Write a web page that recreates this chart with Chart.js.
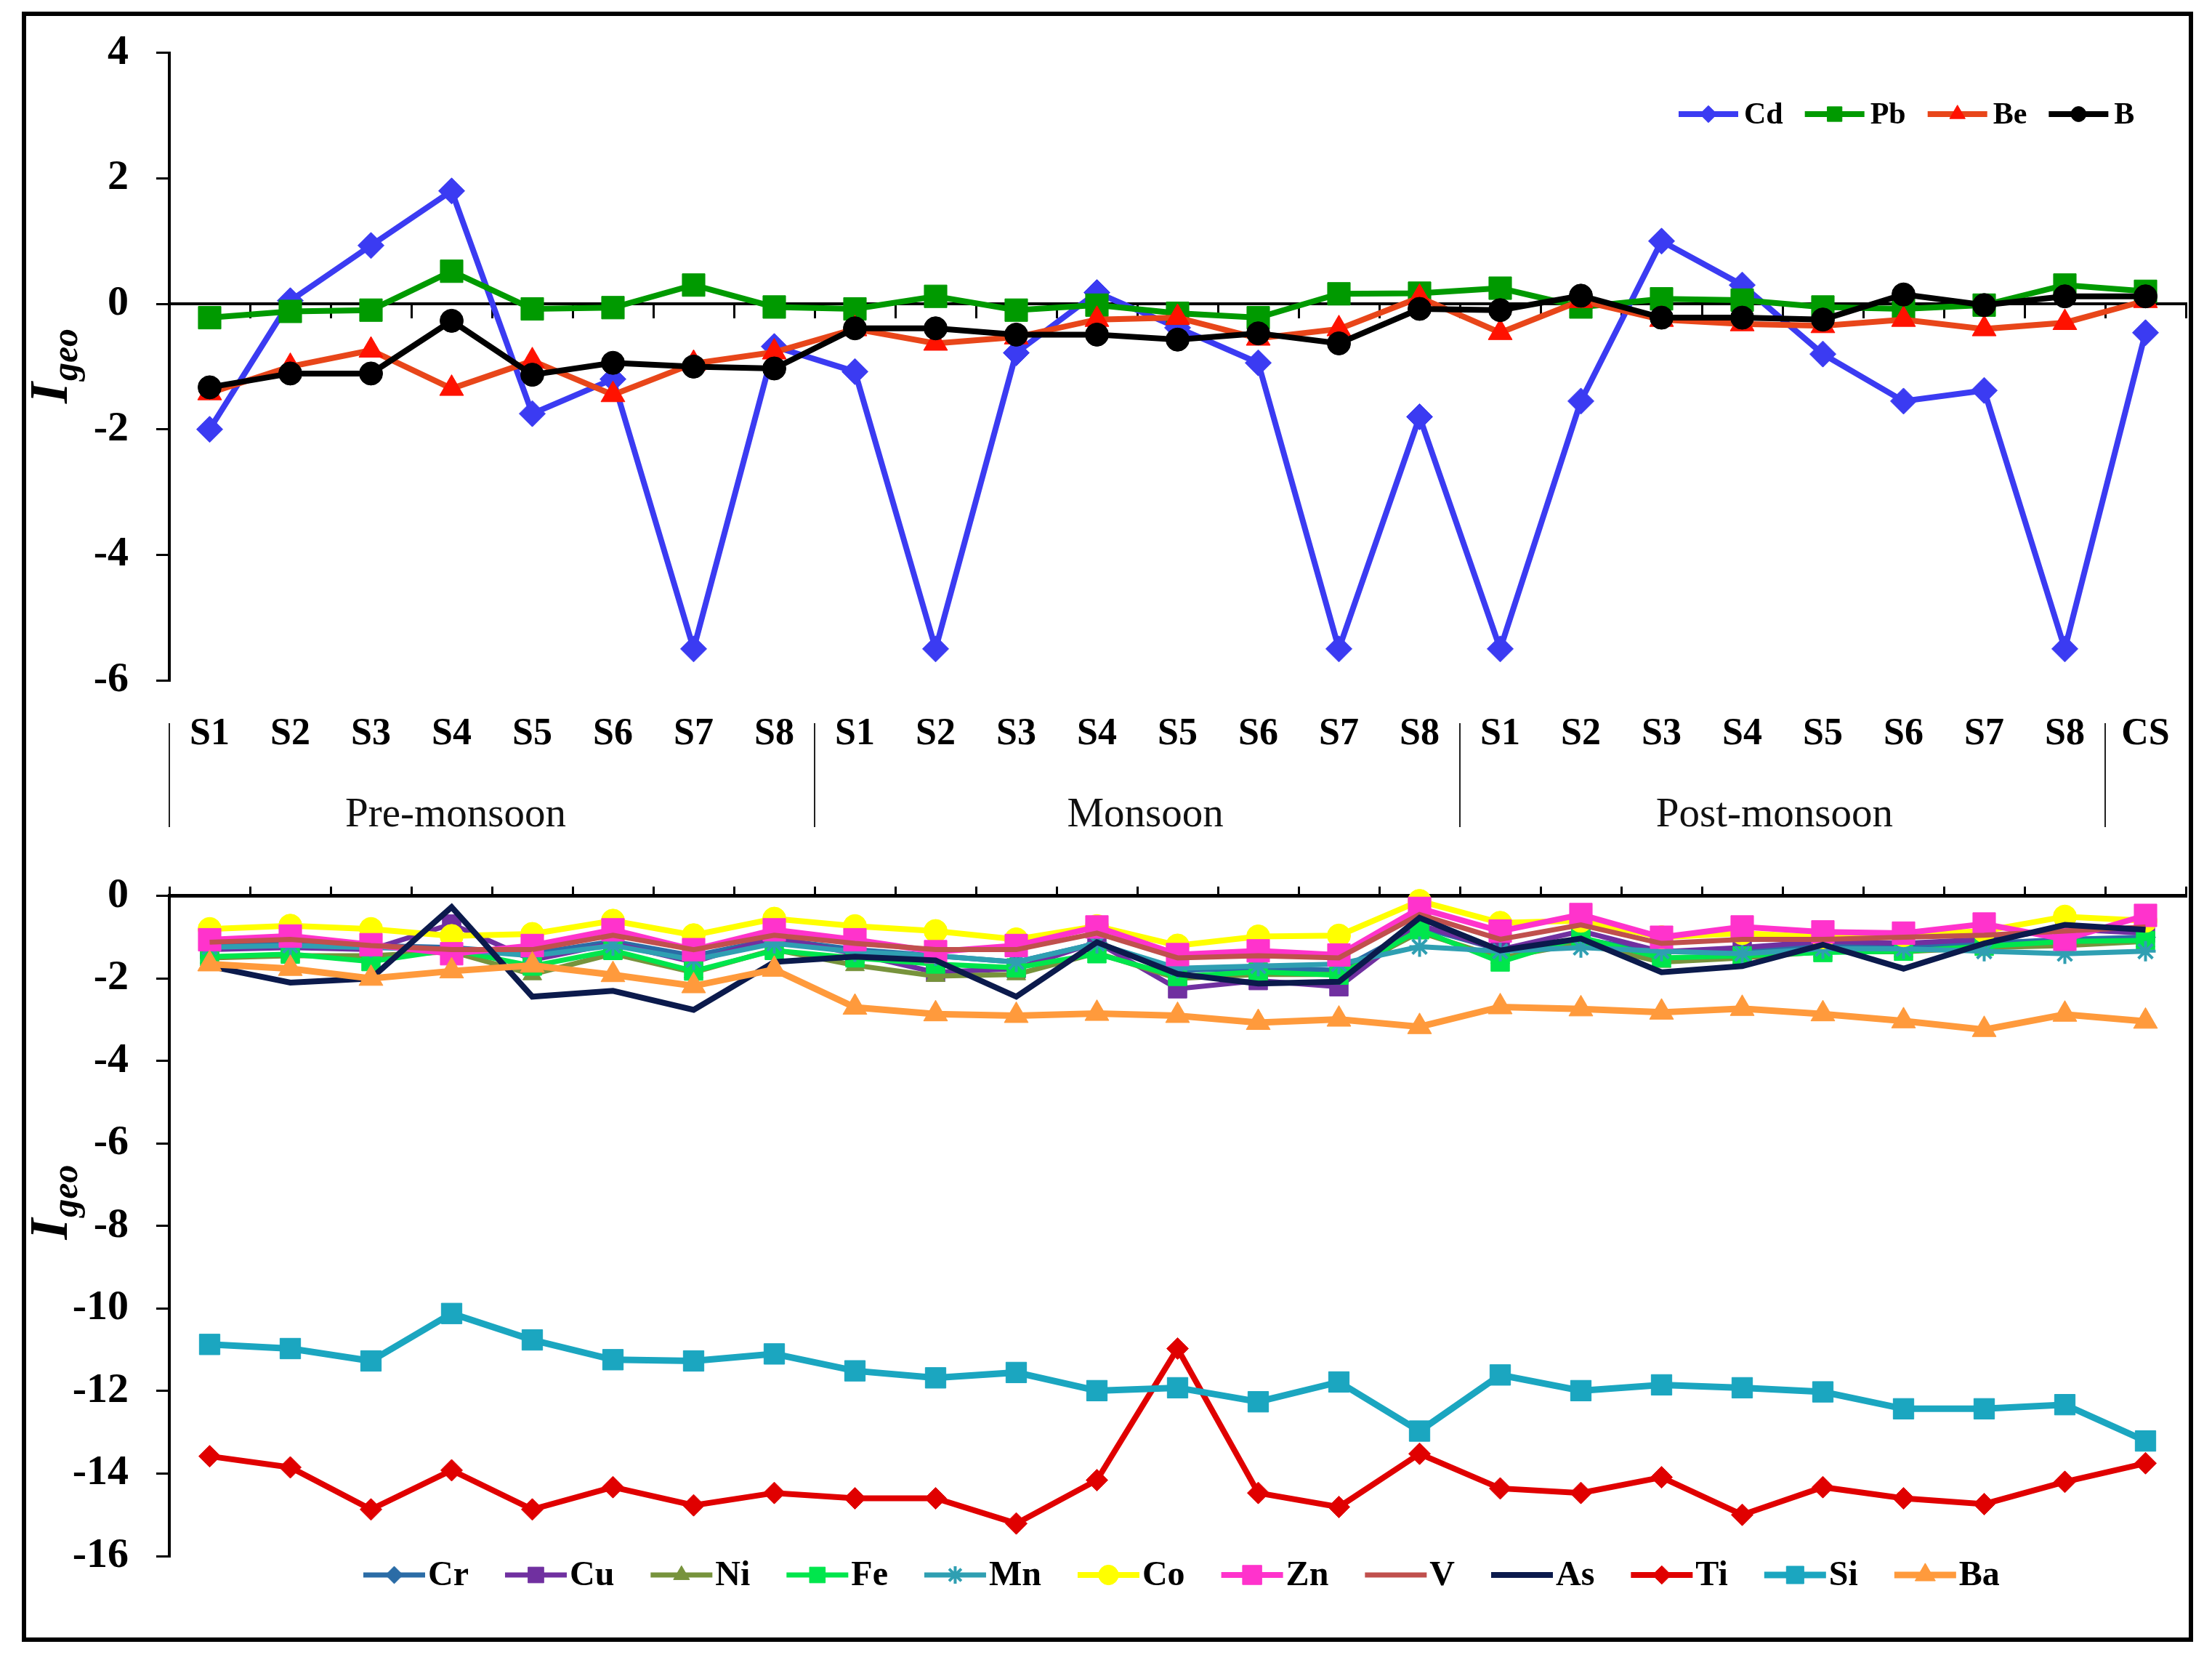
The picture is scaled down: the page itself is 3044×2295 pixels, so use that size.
<!DOCTYPE html>
<html>
<head>
<meta charset="utf-8">
<script src="https://cdn.jsdelivr.net/npm/chart.js@4.4.1/dist/chart.umd.min.js"></script>
<style>
html,body{margin:0;padding:0;background:#fff;}
#page{position:relative;width:3044px;height:2295px;background:#fff;overflow:hidden;}
#frame{position:absolute;left:30px;top:16px;width:2988px;height:2243px;border:6px solid #000;box-sizing:border-box;pointer-events:none;}
canvas{position:absolute;left:0;}
#c1{top:0;}
#c2{top:1160px;}
</style>
</head>
<body>
<div id="page">
<canvas id="c1" width="3044" height="1200"></canvas>
<canvas id="c2" width="3044" height="1135"></canvas>
<div id="frame"></div>
</div>
<script>
// ---------- data ----------
const sites = ["S1","S2","S3","S4","S5","S6","S7","S8",
               "S1","S2","S3","S4","S5","S6","S7","S8",
               "S1","S2","S3","S4","S5","S6","S7","S8","CS"];
const seasons = ["Pre-monsoon","Monsoon","Post-monsoon"];
const topTicks = [4,2,0,-2,-4,-6];
const bottomTicks = [0,-2,-4,-6,-8,-10,-12,-14,-16];

// upper panel
const Cd = [-2.0,0.05,0.93,1.8,-1.75,-1.2,-5.5,-0.68, -1.08,-5.5,-0.78,0.18,-0.38,-0.94,-5.5,-1.8, -5.5,-1.55,1.0,0.3,-0.8,-1.55,-1.38,-5.5,-0.46];
const Pb = [-0.22,-0.12,-0.1,0.52,-0.08,-0.06,0.3,-0.05, -0.08,0.12,-0.1,-0.02,-0.15,-0.22,0.16,0.17, 0.25,-0.05,0.08,0.06,-0.05,-0.08,-0.02,0.3,0.2];
const Be = [-1.42,-1.0,-0.74,-1.35,-0.91,-1.45,-0.95,-0.77, -0.4,-0.63,-0.53,-0.25,-0.22,-0.55,-0.4,0.1, -0.46,0.05,-0.25,-0.32,-0.35,-0.25,-0.4,-0.3,0.05];
const B  = [-1.33,-1.11,-1.11,-0.27,-1.13,-0.94,-1.0,-1.03, -0.39,-0.39,-0.49,-0.49,-0.57,-0.47,-0.63,-0.08, -0.1,0.13,-0.22,-0.22,-0.25,0.15,-0.02,0.12,0.12];

// lower panel
const Cr = [-1.2,-1.15,-1.2,-1.25,-1.4,-1.1,-1.45,-1.05, -1.3,-1.45,-1.6,-1.15,-1.8,-1.75,-1.8,-0.75, -1.3,-1.05,-1.35,-1.3,-1.2,-1.2,-1.15,-1.05,-1.0];
const Cu = [-1.3,-1.25,-1.3,-0.68,-1.55,-1.15,-1.6,-1.0, -1.4,-1.85,-1.76,-1.12,-2.25,-2.05,-2.2,-0.7, -1.3,-0.85,-1.35,-1.25,-1.1,-1.15,-1.05,-0.8,-0.9];
const Ni = [-1.5,-1.45,-1.45,-1.35,-1.9,-1.4,-1.85,-1.3, -1.68,-1.94,-1.9,-1.38,-2.0,-1.9,-1.9,-0.88, -1.5,-1.15,-1.6,-1.5,-1.35,-1.35,-1.25,-1.2,-1.1];
const Fe = [-1.47,-1.41,-1.59,-1.3,-1.7,-1.32,-1.82,-1.32, -1.5,-1.65,-1.74,-1.4,-1.95,-1.84,-1.92,-0.82, -1.6,-1.0,-1.5,-1.45,-1.37,-1.34,-1.22,-1.1,-1.08];
const Mn = [-1.24,-1.2,-1.25,-1.3,-1.45,-1.2,-1.55,-1.15, -1.35,-1.45,-1.6,-1.15,-1.75,-1.7,-1.65,-1.23, -1.34,-1.25,-1.34,-1.4,-1.28,-1.28,-1.34,-1.4,-1.34];
const Co = [-0.8,-0.72,-0.8,-0.97,-0.92,-0.6,-0.95,-0.55, -0.73,-0.85,-1.05,-0.73,-1.2,-0.98,-0.96,-0.12, -0.65,-0.6,-1.0,-0.9,-1.0,-0.95,-0.85,-0.5,-0.6];
const Zn = [-1.06,-0.97,-1.18,-1.4,-1.2,-0.82,-1.3,-0.82, -1.06,-1.35,-1.2,-0.75,-1.42,-1.33,-1.43,-0.3, -0.85,-0.45,-1.0,-0.75,-0.87,-0.9,-0.68,-1.05,-0.47];
const V  = [-1.12,-1.05,-1.2,-1.3,-1.3,-0.95,-1.3,-0.95, -1.15,-1.3,-1.3,-0.9,-1.5,-1.45,-1.5,-0.45, -1.05,-0.7,-1.15,-1.05,-1.05,-1.0,-0.95,-0.85,-0.75];
const As = [-1.7,-2.1,-2.0,-0.27,-2.44,-2.3,-2.76,-1.6, -1.47,-1.56,-2.44,-1.12,-1.89,-2.12,-2.08,-0.53, -1.32,-1.03,-1.85,-1.7,-1.18,-1.76,-1.15,-0.7,-0.82];
const Ti = [-13.58,-13.85,-14.87,-13.92,-14.87,-14.33,-14.77,-14.47, -14.6,-14.6,-15.21,-14.16,-10.97,-14.47,-14.81,-13.52, -14.36,-14.47,-14.09,-15.0,-14.33,-14.6,-14.74,-14.2,-13.75];
const Si = [-10.87,-10.97,-11.27,-10.12,-10.76,-11.24,-11.27,-11.1, -11.51,-11.68,-11.55,-11.99,-11.92,-12.26,-11.78,-12.97, -11.61,-11.99,-11.85,-11.92,-12.02,-12.43,-12.43,-12.33,-13.21];
const Ba = [-1.65,-1.76,-2.0,-1.82,-1.68,-1.91,-2.18,-1.78, -2.7,-2.86,-2.9,-2.85,-2.9,-3.07,-2.99,-3.17, -2.69,-2.74,-2.82,-2.73,-2.86,-3.03,-3.24,-2.87,-3.04];

// ---------- styling ----------
const FF = '"Liberation Serif","Times New Roman",serif';

function ds(label, data, line, fill, style, radius, width, extra) {
  return Object.assign({
    label, data,
    borderColor: line, backgroundColor: fill,
    borderWidth: width,
    pointStyle: style || 'circle',
    pointRadius: radius, pointHoverRadius: radius,
    pointBackgroundColor: fill, pointBorderColor: fill, pointBorderWidth: 1,
    tension: 0, fill: false, clip: false,
    xAxisID: 'x', yAxisID: 'y'
  }, extra || {});
}

const topSets = [
  ds('Cd', Cd, '#3b3bf2', '#3b3bf2', 'rectRot', 18, 8),
  ds('Pb', Pb, '#009a00', '#009a00', 'rect', 22, 8),
  ds('Be', Be, '#e8461a', '#ff1200', 'triangle', 19, 8),
  ds('B',  B,  '#000000', '#000000', 'circle', 16, 8)
];
topSets.forEach((d,i)=>{ d.order = topSets.length - i; });

const botSets = [
  ds('Cr', Cr, '#2b6ca6', '#2b6ca6', 'rectRot', 14, 7),
  ds('Cu', Cu, '#7030a0', '#7030a0', 'rect', 18, 7),
  ds('Ni', Ni, '#77933c', '#77933c', 'triangle', 15, 7),
  ds('Fe', Fe, '#00e64c', '#00e64c', 'rect', 18, 7),
  ds('Mn', Mn, '#2f9fb2', '#2f9fb2', 'star', 14, 7, {pointBorderWidth: 4}),
  ds('Co', Co, '#ffff00', '#ffff00', 'circle', 16, 8),
  ds('Zn', Zn, '#ff33cc', '#ff33cc', 'rect', 22, 8),
  ds('V',  V,  '#c0504d', '#c0504d', 'circle', 0, 7),
  ds('As', As, '#0b1a4c', '#0b1a4c', 'circle', 0, 8),
  ds('Ti', Ti, '#e00000', '#e00000', 'rectRot', 15, 8),
  ds('Si', Si, '#1ba6c0', '#1ba6c0', 'rect', 20, 9),
  ds('Ba', Ba, '#ff9a3c', '#ff9a3c', 'triangle', 19, 9)
];
botSets.forEach((d,i)=>{ d.order = botSets.length - i; });

// ---------- helpers ----------
function drawIgeo(ctx, cx, cy) {
  ctx.save();
  ctx.translate(cx, cy);
  ctx.rotate(-Math.PI / 2);
  ctx.fillStyle = '#000';
  ctx.textBaseline = 'alphabetic';
  ctx.textAlign = 'left';
  const f1 = 'italic bold 74px ' + FF, f2 = 'italic bold 50px ' + FF;
  ctx.font = f1; const w1 = ctx.measureText('I').width;
  ctx.font = f2; const w2 = ctx.measureText('geo').width;
  const x0 = -(w1 + w2) / 2;
  ctx.font = f1; ctx.fillText('I', x0, 0);
  ctx.font = f2; ctx.fillText('geo', x0 + w1 + 2, 14);
  ctx.restore();
}

function drawLegend(ctx, sets, startX, y, lineLen, gapText, gapItem, font, rScale) {
  ctx.save();
  ctx.font = font;
  ctx.textBaseline = 'middle';
  ctx.textAlign = 'left';
  let x = startX;
  sets.forEach(d => {
    ctx.strokeStyle = d.borderColor;
    ctx.lineWidth = d.borderWidth;
    ctx.beginPath(); ctx.moveTo(x, y); ctx.lineTo(x + lineLen, y); ctx.stroke();
    if (d.pointRadius > 0) {
      ctx.fillStyle = d.pointBackgroundColor;
      ctx.strokeStyle = d.pointBorderColor;
      ctx.lineWidth = d.pointBorderWidth;
      Chart.helpers.drawPoint(ctx, {pointStyle: d.pointStyle, radius: d.pointRadius * rScale, rotation: 0, borderWidth: d.pointBorderWidth}, x + lineLen / 2, y);
    }
    x += lineLen + gapText;
    ctx.fillStyle = '#000';
    ctx.font = font;
    ctx.fillText(d.label, x, y + 2);
    x += ctx.measureText(d.label).width + gapItem;
  });
  ctx.restore();
}

const yTickCommon = {
  color: '#000',
  font: {family: FF, weight: 'bold', size: 58},
  padding: 38,
  stepSize: 2
};
const yGrid = {display: true, drawOnChartArea: false, drawTicks: true, tickLength: 18, color: '#000', lineWidth: 3};

// ---------- upper chart ----------
const topPlugin = {
  id: 'topDecor',
  afterDraw(chart) {
    const ctx = chart.ctx;
    const xs = chart.scales.x;
    const area = chart.chartArea;
    ctx.save();
    ctx.strokeStyle = '#222';
    ctx.lineWidth = 2;
    [-0.5, 7.5, 15.5, 23.5].forEach(v => {
      const px = Math.round(xs.getPixelForValue(v));
      ctx.beginPath(); ctx.moveTo(px, 995); ctx.lineTo(px, 1138); ctx.stroke();
    });
    ctx.fillStyle = '#111';
    ctx.font = '57px ' + FF;
    ctx.textAlign = 'center';
    ctx.textBaseline = 'alphabetic';
    const centers = [3.05, 11.6, 19.4];
    seasons.forEach((s, i) => ctx.fillText(s, xs.getPixelForValue(centers[i]), 1137));
    ctx.restore();
    drawIgeo(ctx, 92, (area.top + area.bottom) / 2);
    drawLegend(ctx, chart.data.datasets, 2310, 157, 82, 8, 30, 'bold 42px ' + FF, 0.65);
  }
};

new Chart(document.getElementById('c1'), {
  type: 'line',
  data: {labels: sites, datasets: topSets},
  options: {
    responsive: false, animation: false, devicePixelRatio: 1,
    layout: {padding: {left: 0, right: 36, top: 60, bottom: 64}},
    plugins: {legend: {display: false}, tooltip: {enabled: false}},
    scales: {
      x: {
        type: 'category', axis: 'x', position: {y: 0}, offset: true,
        grid: {display: true, drawOnChartArea: false, drawTicks: true, tickLength: 18, color: '#000', lineWidth: 3, offset: true},
        border: {display: true, color: '#000', width: 4},
        ticks: {display: false}
      },
      x2: {
        type: 'category', axis: 'x', position: 'bottom', offset: true, labels: sites,
        grid: {display: false, drawTicks: false},
        border: {display: false},
        ticks: {color: '#000', font: {family: FF, weight: 'bold', size: 52}, padding: 43, autoSkip: false, maxRotation: 0, minRotation: 0},
        afterFit(s) { s.height = 200; }
      },
      y: {
        min: -6, max: 4,
        ticks: yTickCommon,
        grid: yGrid,
        border: {display: true, color: '#000', width: 4},
        afterFit(s) { s.width = 233; }
      }
    }
  },
  plugins: [topPlugin]
});

// ---------- lower chart ----------
const botPlugin = {
  id: 'botDecor',
  afterDraw(chart) {
    const ctx = chart.ctx;
    drawIgeo(ctx, 92, 1655 - 1160);
    drawLegend(ctx, chart.data.datasets, 500, 1007, 85, 4, 50, 'bold 48px ' + FF, 0.85);
  }
};

new Chart(document.getElementById('c2'), {
  type: 'line',
  data: {labels: sites, datasets: botSets},
  options: {
    responsive: false, animation: false, devicePixelRatio: 1,
    layout: {padding: {left: 0, right: 36, top: 40, bottom: 154}},
    plugins: {legend: {display: false}, tooltip: {enabled: false}},
    scales: {
      x: {
        type: 'category', position: 'top', offset: true,
        grid: {display: true, drawOnChartArea: false, drawTicks: true, tickLength: 13, color: '#000', lineWidth: 3, offset: true},
        border: {display: true, color: '#000', width: 5},
        ticks: {display: false},
        afterFit(s) { s.height = 27; }
      },
      y: {
        min: -16, max: 0,
        ticks: yTickCommon,
        grid: yGrid,
        border: {display: true, color: '#000', width: 4},
        afterFit(s) { s.width = 233; }
      }
    }
  },
  plugins: [botPlugin]
});
</script>
</body>
</html>
